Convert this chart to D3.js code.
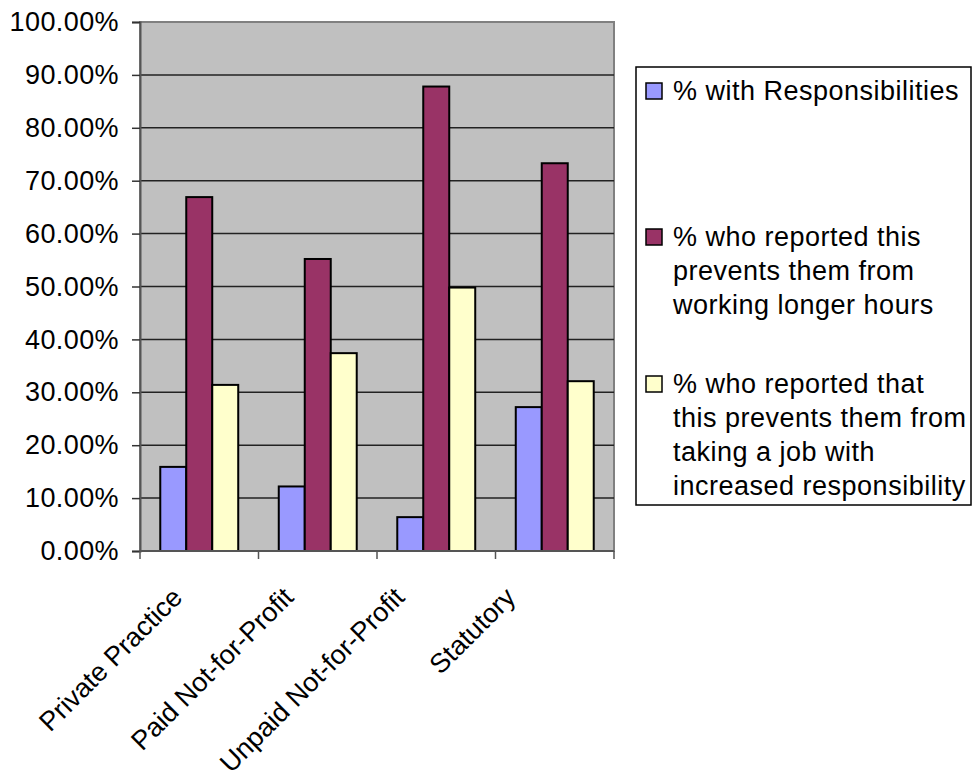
<!DOCTYPE html>
<html>
<head>
<meta charset="utf-8">
<script src="https://cdn.jsdelivr.net/npm/d3@7/dist/d3.min.js"></script>
<style>
  html, body { margin: 0; padding: 0; background: #fff; }
  svg { display: block; font-family: "Liberation Sans", Arial, sans-serif; }
</style>
</head>
<body>
<svg id="chart" width="972" height="778"></svg>
<script>
// Sectors surveyed
const categories = ["Private Practice", "Paid Not-for-Profit", "Unpaid Not-for-Profit", "Statutory"];

// Series labels (legend text, one line per array item)
const seriesNames = [
  ["% with Responsibilities"],
  ["% who reported this", "prevents them from", "working longer hours"],
  ["% who reported that", "this prevents them from", "taking a job with", "increased responsibility"]
];

// Series values, one per category
const withResponsibilities = [0.159, 0.122, 0.064, 0.272];
const preventsLongerHours   = [0.669, 0.552, 0.878, 0.733];
const preventsIncreasedResp = [0.314, 0.374, 0.498, 0.321];
const seriesValues = [withResponsibilities, preventsLongerHours, preventsIncreasedResp];

// Y-axis tick values
const yTicks = [0, 0.1, 0.2, 0.3, 0.4, 0.5, 0.6, 0.7, 0.8, 0.9, 1.0];

const colors = ["#9999FF", "#993366", "#FFFFCC"];

const svg = d3.select("#chart");
const plot = { left: 140, right: 614, top: 22, bottom: 551 };
const fontSize = 27;

const x0 = d3.scaleBand().domain(categories).range([plot.left, plot.right]).padding(0);
const x1 = d3.scaleBand().domain(d3.range(seriesValues.length))
  .range([0, x0.bandwidth()]).paddingInner(0).paddingOuter(0.78);
const y = d3.scaleLinear().domain([0, 1]).range([plot.bottom, plot.top]);

// Anchor points for the slanted category labels (end of each label)
const labelX = d3.scalePoint().domain(categories).range([plot.left + 44, plot.right - 97]);

// Plot background
svg.append("rect")
  .attr("x", plot.left).attr("y", plot.top)
  .attr("width", plot.right - plot.left).attr("height", plot.bottom - plot.top)
  .attr("fill", "#C0C0C0")
  .attr("stroke", "#808080").attr("stroke-width", 2);

// Horizontal gridlines
svg.append("g")
  .selectAll("line")
  .data(yTicks.filter(d => d > 0 && d < 1))
  .join("line")
  .attr("x1", plot.left).attr("x2", plot.right)
  .attr("y1", d => y(d)).attr("y2", d => y(d))
  .attr("stroke", "#222").attr("stroke-width", 1.5);

// Bars
const groups = svg.append("g")
  .selectAll("g")
  .data(categories)
  .join("g")
  .attr("transform", d => `translate(${x0(d)},0)`);

groups.selectAll("rect")
  .data((c, ci) => seriesValues.map((vals, si) => ({ si, v: vals[ci] })))
  .join("rect")
  .attr("x", d => x1(d.si))
  .attr("width", x1.bandwidth())
  .attr("y", d => y(d.v))
  .attr("height", d => y(0) - y(d.v))
  .attr("fill", d => colors[d.si])
  .attr("stroke", "#000").attr("stroke-width", 2);

// Y axis
const yAxis = d3.axisLeft(y).tickValues(yTicks).tickFormat(d3.format(".2%"))
  .tickSize(8).tickPadding(13);
const yg = svg.append("g").attr("transform", `translate(${plot.left},0)`).call(yAxis);
yg.select(".domain").attr("stroke", "#555").attr("stroke-width", 2);
yg.selectAll(".tick line").attr("stroke", "#333").attr("stroke-width", 1.5);
yg.selectAll(".tick text")
  .attr("font-size", fontSize).attr("fill", "#000")
  .attr("letter-spacing", "0.4px")
  .attr("font-family", "Liberation Sans, Arial, sans-serif");

// X axis: ticks at category boundaries
const bounds = categories.map(c => x0(c)).concat([plot.right]);
svg.append("g").selectAll("line")
  .data(bounds)
  .join("line")
  .attr("x1", d => d).attr("x2", d => d)
  .attr("y1", plot.bottom).attr("y2", plot.bottom + 8)
  .attr("stroke", "#555").attr("stroke-width", 1.5);
svg.append("line")
  .attr("x1", plot.left).attr("x2", plot.right)
  .attr("y1", plot.bottom).attr("y2", plot.bottom)
  .attr("stroke", "#555").attr("stroke-width", 2);

// Rotated category labels
svg.append("g").selectAll("text")
  .data(categories)
  .join("text")
  .attr("transform", d => `translate(${labelX(d)},${plot.bottom + 48}) rotate(-45)`)
  .attr("text-anchor", "end")
  .attr("font-size", fontSize)
  .attr("fill", "#000")
  .text(d => d);

// Legend
const legend = { x: 636, y: 67, w: 335, h: 438 };
svg.append("rect")
  .attr("x", legend.x).attr("y", legend.y)
  .attr("width", legend.w).attr("height", legend.h)
  .attr("fill", "#fff").attr("stroke", "#000").attr("stroke-width", 1.5);

const entryBaselines = [100, 246, 393];
const lineHeight = 34;
const entries = svg.append("g").selectAll("g")
  .data(seriesNames)
  .join("g")
  .attr("transform", (d, i) => `translate(0,${entryBaselines[i]})`);

entries.append("rect")
  .attr("x", 646).attr("y", -17)
  .attr("width", 16).attr("height", 16)
  .attr("fill", (d, i) => colors[i])
  .attr("stroke", "#000").attr("stroke-width", 1.5);

entries.append("text")
  .attr("font-size", fontSize)
  .attr("letter-spacing", "0.5px")
  .attr("fill", "#000")
  .selectAll("tspan")
  .data(d => d)
  .join("tspan")
  .attr("x", 673)
  .attr("y", (d, i) => i * lineHeight)
  .text(d => d);
</script>
</body>
</html>
